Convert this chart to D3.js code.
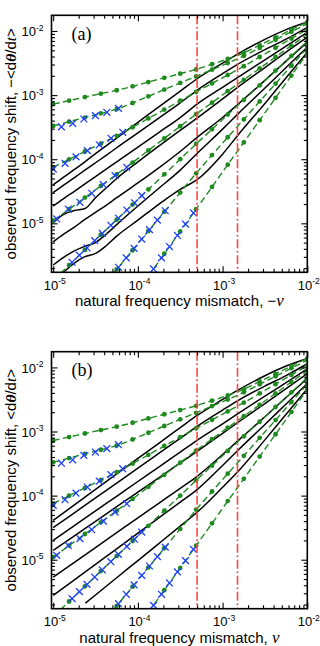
<!DOCTYPE html>
<html><head><meta charset="utf-8">
<script src="https://cdn.jsdelivr.net/npm/d3@7"></script>
<style>body{margin:0;background:#fff} svg{display:block}</style>
</head><body><svg id="c" width="320" height="646"></svg>
<script>
// ---------- DATA ----------
const xMajor = [1e-5, 1e-4, 1e-3, 1e-2];
const xMajorExp = ["-5", "-4", "-3", "-2"];
const yMajor = [1e-5, 1e-4, 1e-3, 1e-2];
const yMajorExp = ["-5", "-4", "-3", "-2"];
const redNu = [5e-4, 1.5e-3];

// green theory lines (dashed + dots), sampled at dotNu
const dotNu = [1.00e-5, 1.54e-5, 2.37e-5, 3.65e-5, 5.62e-5, 8.66e-5, 1.33e-4, 2.05e-4, 3.16e-4, 4.87e-4, 7.50e-4, 1.15e-3, 1.78e-3, 2.74e-3, 4.22e-3, 6.49e-3, 1.00e-2];
const green1 = [7.24e-4, 8.20e-4, 9.31e-4, 1.054e-3, 1.19e-3, 1.37e-3, 1.60e-3, 1.86e-3, 2.16e-3, 2.52e-3, 3.03e-3, 3.66e-3, 4.57e-3, 6.03e-3, 7.94e-3, 1.05e-2, 1.38e-2];
const green2 = [3.31e-4, 3.85e-4, 4.47e-4, 5.19e-4, 6.03e-4, 7.53e-4, 9.57e-4, 1.22e-3, 1.55e-3, 1.96e-3, 2.49e-3, 3.16e-3, 4.08e-3, 5.45e-3, 7.28e-3, 9.73e-3, 1.30e-2];
const green3 = [7.50e-5, 9.95e-5, 1.32e-4, 1.75e-4, 2.32e-4, 3.15e-4, 4.33e-4, 5.94e-4, 8.17e-4, 1.12e-3, 1.52e-3, 2.06e-3, 2.82e-3, 3.93e-3, 5.48e-3, 7.64e-3, 1.06e-2];
const green4 = [1.10e-5, 1.66e-5, 2.52e-5, 3.83e-5, 5.81e-5, 8.87e-5, 1.37e-4, 2.11e-4, 3.27e-4, 5.05e-4, 7.62e-4, 1.15e-3, 1.73e-3, 2.61e-3, 3.93e-3, 5.92e-3, 8.91e-3];
const green5 = [1.29e-6, 2.23e-6, 3.85e-6, 6.64e-6, 1.14e-5, 1.96e-5, 3.38e-5, 5.82e-5, 1.00e-4, 1.73e-4, 2.93e-4, 4.97e-4, 8.41e-4, 1.42e-3, 2.41e-3, 4.08e-3, 6.92e-3];
const green6 = [null, null, null, 9.5e-7, 1.91e-6, 3.80e-6, 7.59e-6, 1.51e-5, 3.02e-5, 6.03e-5, 1.16e-4, 2.20e-4, 4.18e-4, 7.96e-4, 1.51e-3, 2.88e-3, 5.48e-3];
const green7 = [null, null, null, null, null, null, 1.51e-6, 3.35e-6, 7.45e-6, 1.66e-5, 3.69e-5, 8.22e-5, 1.83e-4, 4.07e-4, 9.06e-4, 2.02e-3, 4.50e-3];

// blue crosses
const crossNu2 = [1.25e-5, 1.70e-5, 2.30e-5, 3.15e-5, 4.30e-5, 5.90e-5];
const crossV2  = [3.20e-4, 3.62e-4, 4.24e-4, 4.78e-4, 5.40e-4, 6.22e-4];
const crossNu3 = [1.00e-5, 1.38e-5, 1.86e-5, 2.53e-5, 3.50e-5, 4.81e-5, 6.62e-5];
const crossV3  = [7.03e-5, 8.63e-5, 1.09e-4, 1.36e-4, 1.68e-4, 2.12e-4, 2.63e-4];
const crossNu4 = [1.10e-5, 1.51e-5, 2.07e-5, 2.85e-5, 3.91e-5, 5.37e-5, 7.38e-5];
const crossV4  = [1.17e-5, 1.67e-5, 2.13e-5, 2.94e-5, 4.00e-5, 5.53e-5, 7.48e-5];
const crossNu5 = [1.67e-5, 2.04e-5, 2.51e-5, 3.09e-5, 3.80e-5, 4.79e-5, 5.89e-5, 7.41e-5, 9.12e-5, 1.11e-4];
const crossV5  = [2.47e-6, 3.18e-6, 4.13e-6, 5.37e-6, 6.97e-6, 9.31e-6, 1.21e-5, 1.61e-5, 2.09e-5, 2.70e-5];
const crossNu6 = [5.90e-5, 7.29e-5, 9.02e-5, 1.11e-4, 1.37e-4, 1.70e-4, 2.10e-4];
const crossV6  = [2.06e-6, 2.89e-6, 4.06e-6, 5.69e-6, 7.98e-6, 1.12e-5, 1.57e-5];
const crossNu7 = [1.53e-4, 1.90e-4, 2.36e-4, 2.93e-4, 3.65e-4, 4.53e-4];
const crossV7  = [1.94e-6, 2.89e-6, 4.34e-6, 6.47e-6, 9.70e-6, 1.45e-5];

// black simulation curves, panel (a)
const blackNuA = [1e-5, 1.33e-5, 1.78e-5, 2.37e-5, 3.16e-5, 4.22e-5, 5.62e-5, 1e-4, 1.78e-4, 3.16e-4, 5e-4, 1e-3, 1.5e-3, 3.16e-3, 5.62e-3, 1e-2];
const blackA1 = [3.98e-5, 5.25e-5, 6.92e-5, 9.12e-5, 1.22e-4, 1.62e-4, 2.14e-4, 3.76e-4, 6.61e-4, 1.15e-3, 1.80e-3, 3.16e-3, 4.37e-3, 7.41e-3, 1.05e-2, 1.38e-2];
const blackA2 = [3.02e-5, 3.94e-5, 5.15e-5, 6.75e-5, 8.81e-5, 1.15e-4, 1.51e-4, 2.57e-4, 4.42e-4, 7.59e-4, 1.19e-3, 2.16e-3, 3.01e-3, 5.12e-3, 7.45e-3, 1.14e-2];
const blackA3 = [1.86e-5, 2.43e-5, 3.16e-5, 4.12e-5, 5.37e-5, 7.00e-5, 9.12e-5, 1.55e-4, 2.63e-4, 4.47e-4, 7.24e-4, 1.32e-3, 1.88e-3, 3.55e-3, 5.81e-3, 9.51e-3];
const blackA4 = [1.02e-5, 1.38e-5, 1.58e-5, 1.70e-5, 2.51e-5, 3.55e-5, 5.01e-5, 9.12e-5, 1.62e-4, 2.82e-4, 4.37e-4, 8.71e-4, 1.32e-3, 2.69e-3, 4.68e-3, 8.00e-3];
const blackA5 = [5.13e-6, 6.76e-6, 8.71e-6, 1.15e-5, 1.48e-5, 1.91e-5, 2.51e-5, 4.27e-5, 7.41e-5, 1.32e-4, 2.19e-4, 4.47e-4, 7.08e-4, 1.70e-3, 3.39e-3, 6.70e-3];
const blackA6 = [2.24e-6, 2.95e-6, 3.72e-6, 4.37e-6, 5.01e-6, 6.76e-6, 9.55e-6, 1.86e-5, 3.55e-5, 6.76e-5, 1.23e-4, 2.95e-4, 5.01e-4, 1.29e-3, 2.69e-3, 5.60e-3];
const blackA7 = [null, 1.74e-6, 2.40e-6, 3.02e-6, 3.39e-6, 4.47e-6, 6.31e-6, 1.12e-5, 2.00e-5, 3.39e-5, 4.79e-5, 1.20e-4, 2.33e-4, 7.41e-4, 1.86e-3, 4.65e-3];

// black simulation curves, panel (b)
const blackNuB = [1e-5, 1.78e-5, 3.16e-5, 5.62e-5, 1e-4, 1.78e-4, 3.16e-4, 5e-4, 1e-3, 1.5e-3, 3.16e-3, 5.62e-3, 1e-2];
const blackB1 = [4.10e-5, 7.16e-5, 1.25e-4, 2.18e-4, 3.80e-4, 6.61e-4, 1.15e-3, 1.78e-3, 3.16e-3, 4.37e-3, 7.41e-3, 1.05e-2, 1.38e-2];
const blackB2 = [3.16e-5, 5.40e-5, 9.23e-5, 1.57e-4, 2.69e-4, 4.59e-4, 7.83e-4, 1.20e-3, 2.16e-3, 3.01e-3, 5.12e-3, 7.45e-3, 1.14e-2];
const blackB3 = [2.00e-5, 3.40e-5, 5.77e-5, 9.77e-5, 1.66e-4, 2.81e-4, 4.78e-4, 7.29e-4, 1.32e-3, 1.88e-3, 3.55e-3, 5.81e-3, 9.51e-3];
const blackB4 = [1.40e-5, 2.36e-5, 3.98e-5, 6.71e-5, 1.13e-4, 1.91e-4, 3.23e-4, 4.90e-4, 9.33e-4, 1.37e-3, 2.73e-3, 4.68e-3, 8.00e-3];
const blackB5 = [5.36e-6, 9.12e-6, 1.55e-5, 2.64e-5, 4.50e-5, 7.66e-5, 1.30e-4, 2.00e-4, 4.36e-4, 7.08e-4, 1.70e-3, 3.39e-3, 6.70e-3];
const blackB6 = [2.77e-6, 4.85e-6, 8.47e-6, 1.48e-5, 2.59e-5, 4.53e-5, 7.92e-5, 1.24e-4, 2.95e-4, 5.01e-4, 1.29e-3, 2.69e-3, 5.60e-3];
const blackNuB7 = [2.40e-5, 3.16e-5, 5.62e-5, 1e-4, 1.78e-4, 3.16e-4, 5e-4, 1e-3, 1.5e-3, 3.16e-3, 5.62e-3, 1e-2];
const blackB7 = [2.10e-6, 2.82e-6, 5.24e-6, 9.70e-6, 1.80e-5, 3.34e-5, 5.50e-5, 1.35e-4, 2.33e-4, 7.41e-4, 1.86e-3, 4.65e-3];

// ---------- DRAW ----------
const svg = d3.select('#c');
const X0 = 51.5, X1 = 307.3, H = 257;
const GREEN = '#1f8a1f', BLUE = '#2040ff', RED = '#ff4545';
const SANS = 'Liberation Sans, Arial, Helvetica, sans-serif';
const SERIF = 'Liberation Serif, Times New Roman, serif';

const x = d3.scaleLog().domain([Math.pow(10, -5.02), 1e-2]).range([X0, X1]);

function minorTicks(lo, hi) {
  const out = [];
  for (let e = -7; e <= -1; e++) for (let m = 2; m <= 9; m++) {
    const v = m * Math.pow(10, e);
    if (v > lo && v < hi) out.push(v);
  }
  return out;
}

const greens = [green1, green2, green3, green4, green5, green6, green7];
const crosses = [[crossNu2, crossV2], [crossNu3, crossV3], [crossNu4, crossV4], [crossNu5, crossV5], [crossNu6, crossV6], [crossNu7, crossV7]];

const panels = [
  { top: 15.3, label: '(a)', minus: true,
    black: [[blackNuA, blackA1], [blackNuA, blackA2], [blackNuA, blackA3], [blackNuA, blackA4], [blackNuA, blackA5], [blackNuA, blackA6], [blackNuA, blackA7]] },
  { top: 351.7, label: '(b)', minus: false,
    black: [[blackNuB, blackB1], [blackNuB, blackB2], [blackNuB, blackB3], [blackNuB, blackB4], [blackNuB, blackB5], [blackNuB, blackB6], [blackNuB7, blackB7]] }
];

panels.forEach((p, i) => {
  const top = p.top, bot = p.top + H;
  const y = d3.scaleLog().domain([Math.pow(10, -5.764), Math.pow(10, -1.755)]).range([bot, top]);
  const g = svg.append('g');

  const cid = 'clip' + i;
  g.append('clipPath').attr('id', cid).append('rect')
    .attr('x', X0).attr('y', top).attr('width', X1 - X0).attr('height', H);
  const plot = g.append('g').attr('clip-path', `url(#${cid})`);

  // black curves
  const lineB = d3.line().defined(d => d[1] != null)
    .x(d => x(d[0])).y(d => y(d[1])).curve(d3.curveMonotoneX);
  p.black.forEach(([nu, v]) => {
    plot.append('path').datum(nu.map((n, k) => [n, v[k]]))
      .attr('d', lineB).attr('fill', 'none').attr('stroke', '#000').attr('stroke-width', 1.5);
  });

  // green dashed lines + dots
  const lineG = d3.line().defined(d => d[1] != null)
    .x(d => x(d[0])).y(d => y(d[1])).curve(d3.curveMonotoneX);
  greens.forEach(v => {
    const pts = dotNu.map((n, k) => [n, v[k]]);
    plot.append('path').datum(pts).attr('d', lineG).attr('fill', 'none')
      .attr('stroke', GREEN).attr('stroke-width', 1.4).attr('stroke-dasharray', '6.5,3.5');
    plot.selectAll(null).data(pts.filter(d => d[1] != null)).enter().append('circle')
      .attr('cx', d => x(d[0])).attr('cy', d => y(d[1])).attr('r', 2.4).attr('fill', GREEN);
  });

  // blue crosses
  const s = 3.4;
  crosses.forEach(([nu, v]) => {
    const pts = nu.map((n, k) => [n, v[k]]);
    plot.selectAll(null).data(pts).enter().append('path')
      .attr('d', d => { const cx = x(d[0]), cy = y(d[1]);
        return `M${cx - s},${cy - s}L${cx + s},${cy + s}M${cx - s},${cy + s}L${cx + s},${cy - s}`; })
      .attr('stroke', BLUE).attr('stroke-width', 1.3).attr('fill', 'none');
  });

  // red dash-dot verticals
  plot.selectAll(null).data(redNu).enter().append('line')
    .attr('x1', d => x(d)).attr('x2', d => x(d)).attr('y1', top).attr('y2', bot)
    .attr('stroke', RED).attr('stroke-width', 1.6).attr('stroke-dasharray', '9,2.5,2,2.5');

  // axes (ticks inside, mirrored)
  const xMinor = minorTicks(x.domain()[0], x.domain()[1]);
  const yMinor = minorTicks(y.domain()[0], y.domain()[1]);
  const styleAxis = sel => { sel.select('.domain').remove(); sel.selectAll('line').attr('stroke', '#000').attr('stroke-width', 1.1); };

  g.append('g').attr('transform', `translate(0,${bot})`).call(d3.axisBottom(x).tickValues(xMinor).tickSize(-3.5).tickFormat('')).call(styleAxis);
  g.append('g').attr('transform', `translate(0,${top})`).call(d3.axisTop(x).tickValues(xMinor).tickSize(-3.5).tickFormat('')).call(styleAxis);
  g.append('g').attr('transform', `translate(0,${top})`).call(d3.axisTop(x).tickValues(xMajor).tickSize(-6).tickFormat('')).call(styleAxis);
  g.append('g').attr('transform', `translate(${X0},0)`).call(d3.axisLeft(y).tickValues(yMinor).tickSize(-3.5).tickFormat('')).call(styleAxis);
  g.append('g').attr('transform', `translate(${X1},0)`).call(d3.axisRight(y).tickValues(yMinor).tickSize(-3.5).tickFormat('')).call(styleAxis);
  g.append('g').attr('transform', `translate(${X1},0)`).call(d3.axisRight(y).tickValues(yMajor).tickSize(-6).tickFormat('')).call(styleAxis);

  const xb = g.append('g').attr('transform', `translate(0,${bot})`)
    .call(d3.axisBottom(x).tickValues(xMajor).tickSize(-6)).call(styleAxis);
  xb.selectAll('.tick text').each(function (d, k) {
    const t = d3.select(this);
    t.text(null).attr('y', 17.5).attr('dy', 0).attr('x', 1).attr('text-anchor', 'middle')
      .attr('font-family', SANS).attr('font-size', 13).attr('fill', '#000');
    t.append('tspan').text('10');
    t.append('tspan').attr('dy', -5.5).attr('font-size', 8.5).text(xMajorExp[k]);
  });

  const yl = g.append('g').attr('transform', `translate(${X0},0)`)
    .call(d3.axisLeft(y).tickValues(yMajor).tickSize(-6)).call(styleAxis);
  yl.selectAll('.tick text').each(function (d, k) {
    const t = d3.select(this);
    t.text(null).attr('x', -8).attr('dy', 4.6).attr('text-anchor', 'end')
      .attr('font-family', SANS).attr('font-size', 13).attr('fill', '#000');
    t.append('tspan').text('10');
    t.append('tspan').attr('dy', -5.5).attr('font-size', 8.5).text(yMajorExp[k]);
  });

  // frame
  g.append('rect').attr('x', X0).attr('y', top).attr('width', X1 - X0).attr('height', H)
    .attr('fill', 'none').attr('stroke', '#000').attr('stroke-width', 1.6);

  // panel label
  g.append('text').attr('x', 71.5).attr('y', top + 24.5).attr('font-family', SERIF)
    .attr('font-size', 18).attr('fill', '#000').text(p.label);

  // x title
  const xt = g.append('text').attr('x', (X0 + X1) / 2).attr('y', bot + 34)
    .attr('text-anchor', 'middle').attr('font-family', SANS).attr('font-size', 15).attr('fill', '#000');
  xt.append('tspan').text('natural frequency mismatch, ' + (p.minus ? '\u2212' : ''));
  xt.append('tspan').attr('font-family', SERIF).attr('font-style', 'italic').attr('font-size', 17).text('\u03bd');

  // y title
  const cy = (top + bot) / 2;
  const yt = g.append('text').attr('transform', `translate(15.5,${cy}) rotate(-90)`)
    .attr('text-anchor', 'middle').attr('font-family', SANS).attr('font-size', 15).attr('fill', '#000');
  yt.append('tspan').text('observed frequency shift, ' + (p.minus ? '\u2212' : '') + '<d');
  yt.append('tspan').attr('font-family', SERIF).attr('font-style', 'italic').attr('font-weight', 'bold').attr('font-size', 15.5).text('\u03b8');
  yt.append('tspan').text('/d');
  yt.append('tspan').attr('font-family', SERIF).attr('font-style', 'italic').attr('font-size', 15.5).text('t');
  yt.append('tspan').text('>');
});
</script>
</body></html>
